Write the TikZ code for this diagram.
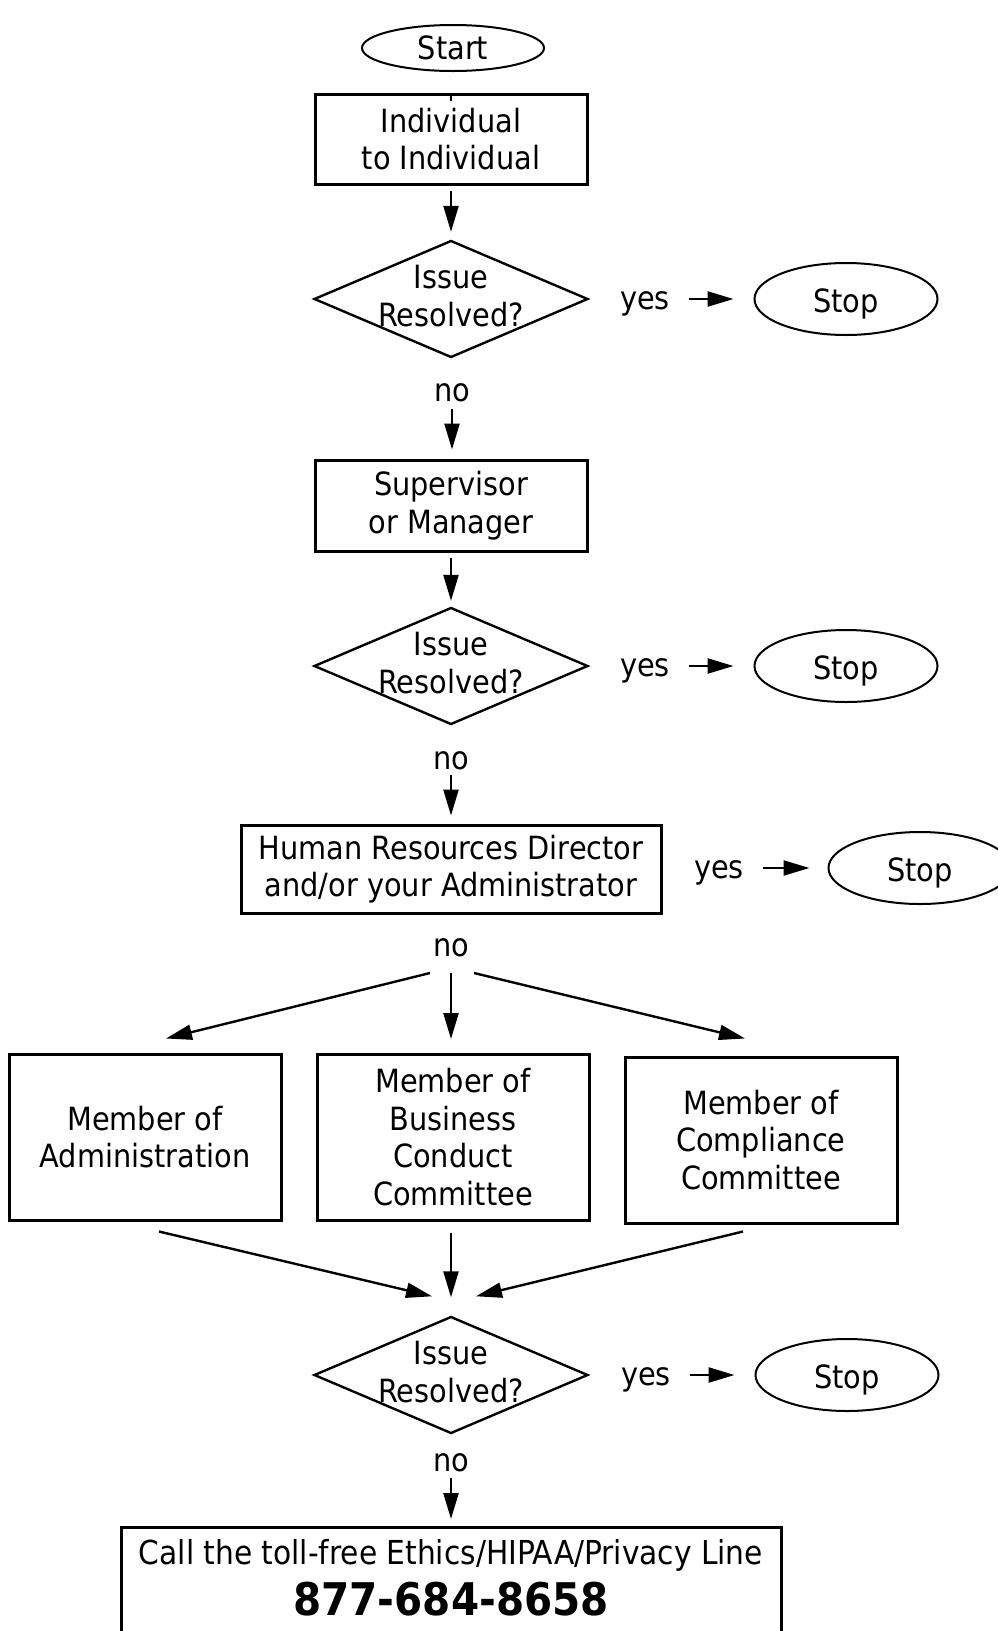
\documentclass[tikz,border=0pt]{standalone}
\usepackage{fontspec}
\setmainfont{DejaVu Sans Condensed}
\usetikzlibrary{shapes.geometric,arrows.meta,calc}
\newcommand{\lowstop}{\raisebox{-5pt}[\height][\depth]{Stop}}
\begin{document}
\begin{tikzpicture}[x=1pt,y=-1pt,
  txt/.style={font=\fontsize{32}{37.5}\selectfont, align=center},
  box/.style={draw, line width=3pt, rectangle, inner sep=0pt, txt, minimum width=272, minimum height=90},
  oval/.style={draw, line width=2pt, ellipse, inner sep=0pt, minimum width=183, minimum height=72, font=\fontsize{32}{37.5}\selectfont},
  dia/.style={draw, line width=2.4pt, diamond, inner sep=0pt, minimum width=274, minimum height=117, aspect=2.34,
    label={[txt, inner sep=0pt, yshift=3pt]center:Issue\\Resolved?}},
  lbl/.style={inner sep=0pt, txt},
  arr/.style={line width=2.4pt, -{Triangle[length=26pt,width=15pt]}},
]
\useasboundingbox (0,0) rectangle (998,1631);
\clip (0,0) rectangle (998,1631);

% column
\node[oval, minimum width=182, minimum height=46] (start) at (453,48) {Start};
\node[box] (b1) at (451,139) {Individual\\to Individual};
\node[dia] (d1) at (451,299) {};
\node[lbl] (y1) at (645,303.5) {yes};
\node[oval] (s1) at (846,299) {\lowstop};
\node[lbl] (no1) at (452,393) {no};
\node[box, minimum height=91] (b2) at (451,505.5) {Supervisor\\or Manager};
\node[dia] (d2) at (451,666) {};
\node[lbl] (y2) at (645,670.5) {yes};
\node[oval] (s2) at (846,666) {\lowstop};
\node[lbl] (no2) at (451,761) {no};
\node[box, minimum width=420, minimum height=88] (b3) at (451,869) {Human Resources Director\\and/or your Administrator};
\node[lbl] (y3) at (719,872.5) {yes};
\node[oval] (s3) at (920,868) {\lowstop};
\node[lbl] (no3) at (451,948) {no};

\node[box, minimum height=166] (A) at (145,1137) {Member of\\Administration};
\node[box, minimum height=166] (B) at (453,1137) {Member of\\Business\\Conduct\\Committee};
\node[box, minimum height=166] (C) at (761,1140) {Member of\\Compliance\\Committee};

\node[dia] (d3) at (451,1375) {};
\node[lbl] (y4) at (646,1379.5) {yes};
\node[oval] (s4) at (847,1375) {\lowstop};
\node[lbl] (no4) at (451,1463) {no};

\node[draw, line width=3pt, rectangle, inner sep=0pt, minimum width=660, minimum height=140, anchor=north] (F) at (451,1526) {};
\node[inner sep=0pt, font=\fontsize{33}{38}\selectfont] (Ft1) at (451,1555) {Call the toll-free Ethics/HIPAA/Privacy Line};
\node[inner sep=0pt, font=\fontsize{45}{50}\selectfont\bfseries] (Ft2) at (451,1599) {877-684-8658};

% tick at top of first box
\draw[line width=1.5pt] ($(b1.north)+(0,3)$) -- ($(b1.north)+(0,8)$);

% vertical arrows
\draw[arr, shorten <=5pt, shorten >=7.5pt] (b1.south) -- (d1.north);
\draw[arr, shorten <=16pt, shorten >=9pt] (no1.center) -- (no1.center |- b2.north);
\draw[arr, shorten <=5pt, shorten >=5.5pt] (b2.south) -- (d2.north);
\draw[arr, shorten <=14pt, shorten >=8pt] (no2.center) -- (b3.north);
\draw[arr, shorten <=15pt, shorten >=7pt] (no4.center) -- (F.north);

% yes arrows
\draw[arr, shorten <=44pt, shorten >=20pt] (y1.center |- s1.west) -- (s1.west);
\draw[arr, shorten <=44pt, shorten >=20pt] (y2.center |- s2.west) -- (s2.west);
\draw[arr, shorten <=44pt, shorten >=18pt] (y3.center |- s3.west) -- (s3.west);
\draw[arr, shorten <=44pt, shorten >=20pt] (y4.center |- s4.west) -- (s4.west);

% fan out
\draw[arr] ($(no3)+(-21,25)$) -- ($(A.north)+(21,-14)$);
\draw[arr] ($(no3)+(0,25)$) -- ($(no3)+(0,91)$);
\draw[arr] ($(no3)+(23,25)$) -- ($(C.north)+(-16,-17)$);

% converge
\draw[arr] ($(A.south)+(14,10)$) -- ($(d3.north)+(-19,-19)$);
\draw[arr] ($(B.south)+(-2,11)$) -- ($(d3.north)+(0,-18)$);
\draw[arr] ($(C.south)+(-18,7)$) -- ($(d3.north)+(25,-19)$);
\end{tikzpicture}
\end{document}
